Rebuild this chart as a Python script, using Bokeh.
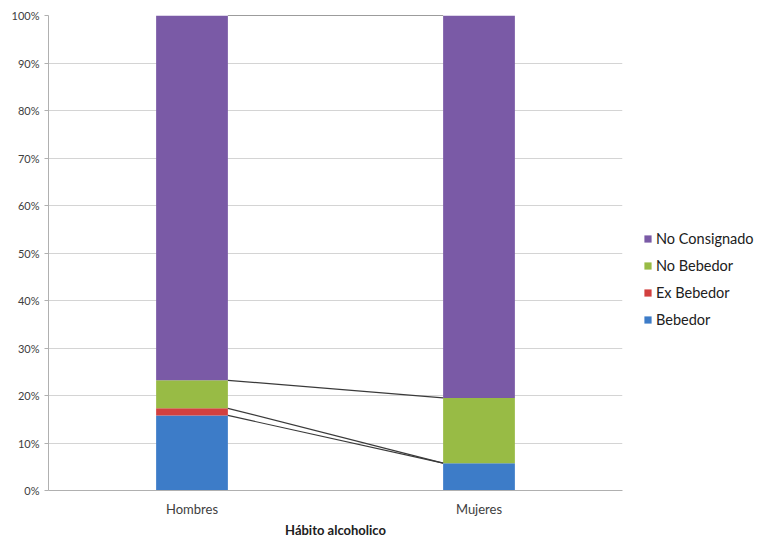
import numpy as np
from bokeh.plotting import figure
from bokeh.models import (ColumnDataSource, FixedTicker, Legend, LegendItem, Range1d)
from bokeh.embed import file_html
from bokeh.resources import INLINE

categories = ["Hombres", "Mujeres"]
series = ["Bebedor", "Ex Bebedor", "No Bebedor", "No Consignado"]
bebedor = [15.8, 5.75]
ex_bebedor = [1.5, 0.0]
no_bebedor = [5.9, 13.75]
no_consignado = [76.8, 80.5]
colors = ["#3d7cc8", "#d2403f", "#98bb45", "#7a5aa6"]
y_ticks = [0, 10, 20, 30, 40, 50, 60, 70, 80, 90, 100]
y_labels = ["0%", "10%", "20%", "30%", "40%", "50%", "60%", "70%", "80%", "90%", "100%"]

FONT = "Lato"
xpos = [0.5, 1.5]
bar_w = 0.25

data = {"x": xpos, "Bebedor": bebedor, "Ex Bebedor": ex_bebedor,
        "No Bebedor": no_bebedor, "No Consignado": no_consignado}
src = ColumnDataSource(data)

p = figure(frame_width=574, frame_height=475, output_backend="svg", toolbar_location=None,
           x_range=Range1d(0, 2), y_range=Range1d(0, 100),
           min_border_left=48, min_border_right=0, min_border_top=15,
           min_border_bottom=46)
p.outline_line_color = None
p.xgrid.grid_line_color = None
p.ygrid.grid_line_color = "#d4d4d4"
p.ygrid.ticker = FixedTicker(ticks=y_ticks)

renderers = p.vbar_stack(series, x="x", width=bar_w, color=colors,
                         line_color=None, source=src)

# series connector lines
cum = np.cumsum(np.array([bebedor, ex_bebedor, no_bebedor, no_consignado]), axis=0)
for row in cum:
    p.line([xpos[0] + bar_w / 2, xpos[1] - bar_w / 2], [row[0], row[1]],
           line_color="#3a3a3a", line_width=1.2)

p.yaxis.ticker = FixedTicker(ticks=y_ticks)
p.yaxis.major_label_overrides = {t: l for t, l in zip(y_ticks, y_labels)}
p.yaxis.major_label_text_font = FONT
p.yaxis.major_label_text_font_size = "11px"
p.yaxis.major_label_text_color = "#404040"
p.yaxis.axis_line_color = "#b0b0b0"
p.yaxis.major_tick_line_color = "#b0b0b0"
p.yaxis.major_tick_out = 4
p.yaxis.major_tick_in = 0
p.yaxis.minor_tick_line_color = None

p.xaxis.ticker = FixedTicker(ticks=xpos)
p.xaxis.major_label_overrides = {0.5: categories[0], 1.5: categories[1]}
p.xaxis.major_label_text_font = FONT
p.xaxis.major_label_text_font_size = "13px"
p.xaxis.major_label_text_color = "#404040"
p.xaxis.major_label_standoff = 4
p.xaxis.axis_line_color = "#b0b0b0"
p.xaxis.major_tick_line_color = None
p.xaxis.major_tick_out = 6
p.xaxis.minor_tick_line_color = None
p.xaxis.axis_label = "Hábito alcoholico"
p.xaxis.axis_label_text_font = FONT
p.xaxis.axis_label_text_font_style = "bold"
p.xaxis.axis_label_text_font_size = "13px"
p.xaxis.axis_label_text_color = "#202020"
p.xaxis.axis_label_standoff = 2

items = [LegendItem(label=series[i], renderers=[renderers[i]]) for i in [3, 2, 1, 0]]
legend = Legend(items=items, location=(21, 162), glyph_width=9, glyph_height=9,
                label_text_font=FONT, label_text_font_size="14.5px",
                label_text_color="#202020", spacing=10, padding=0, margin=0,
                label_standoff=4, border_line_color=None,
                background_fill_alpha=0)
p.add_layout(legend, "right")

open("out.html", "w").write(file_html(p, INLINE))
